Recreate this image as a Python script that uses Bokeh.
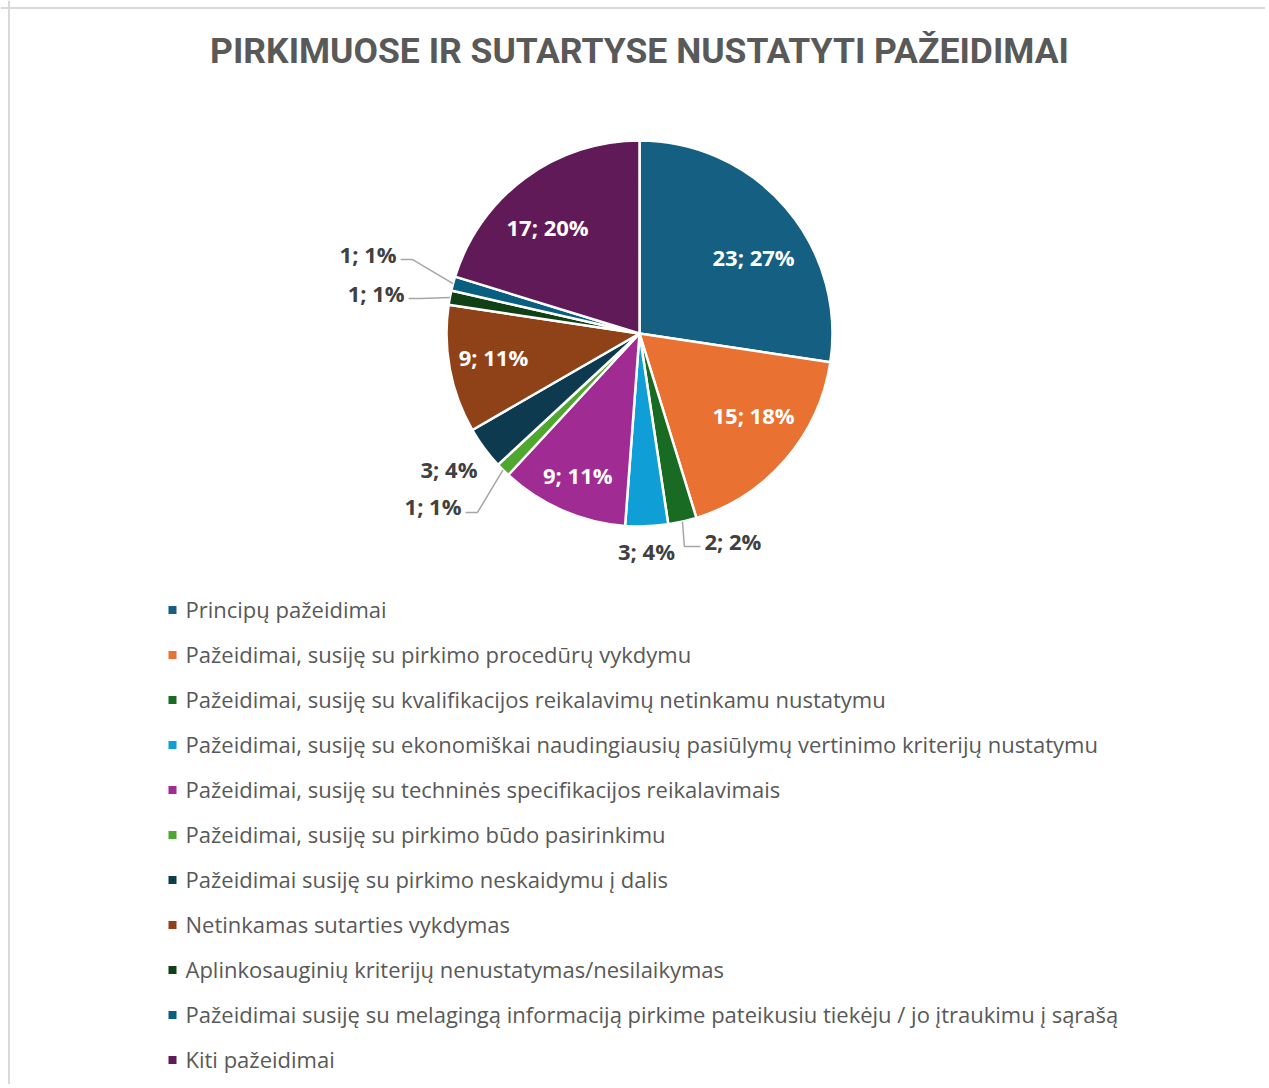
import math
from bokeh.plotting import figure
from bokeh.models import ColumnDataSource, Range1d, Span
from bokeh.core.properties import value
from bokeh.embed import file_html
from bokeh.resources import INLINE

# ---------------- data ----------------
title_text = "PIRKIMUOSE IR SUTARTYSE NUSTATYTI PAŽEIDIMAI"
categories = [
    "Principų pažeidimai",
    "Pažeidimai, susiję su pirkimo procedūrų vykdymu",
    "Pažeidimai, susiję su kvalifikacijos reikalavimų netinkamu nustatymu",
    "Pažeidimai, susiję su ekonomiškai naudingiausių pasiūlymų vertinimo kriterijų nustatymu",
    "Pažeidimai, susiję su techninės specifikacijos reikalavimais",
    "Pažeidimai, susiję su pirkimo būdo pasirinkimu",
    "Pažeidimai susiję su pirkimo neskaidymu į dalis",
    "Netinkamas sutarties vykdymas",
    "Aplinkosauginių kriterijų nenustatymas/nesilaikymas",
    "Pažeidimai susiję su melagingą informaciją pirkime pateikusiu tiekėju / jo įtraukimu į sąrašą",
    "Kiti pažeidimai",
]
counts = [23, 15, 2, 3, 9, 1, 3, 9, 1, 1, 17]
colors = ["#156082", "#E97132", "#196B24", "#0F9ED5", "#A02B93", "#4EA72E",
          "#0D3A4E", "#8F4117", "#0F4016", "#095F80", "#601A58"]

# ---------------- layout ----------------
W, H = 1265, 1084
def X(sx):
    return sx
def Y(sy):
    return H - sy

cx, cy = X(639), Y(333)
R = 193
label_kind = ["in", "in", "leader", "out", "in", "leader", "out", "in", "leader", "leader", "in"]
label_shift = [6.7, -5.3, -3.1, 0.3, 0.0, -0.8, 1.1, 1.7, -2.1, 2.2, -4.3]
label_k = [0.713, 0.725, 1.148, 1.125, 0.80, 1.293, 1.21, 0.766, 1.21, 1.296, 0.73]

FONT = "Open Sans"

p = figure(width=W, height=H, x_range=Range1d(0, W), y_range=Range1d(0, H),
           output_backend="svg", toolbar_location=None,
           x_axis_type=None, y_axis_type=None, min_border=0)
p.title.visible = False
p.outline_line_color = None
p.grid.visible = False
p.background_fill_color = "white"
p.border_fill_color = "white"

p.add_layout(Span(location=Y(7.5), dimension="width", line_color="#D9D9D9", line_width=2))
p.add_layout(Span(location=X(8.5), dimension="height", line_color="#D9D9D9", line_width=2))

total = sum(counts)
starts, ends, mids = [], [], []
cum = 0
for v in counts:
    a0 = 360.0 * cum / total
    cum += v
    a1 = 360.0 * cum / total
    starts.append(math.pi / 2 - math.radians(a0))
    ends.append(math.pi / 2 - math.radians(a1))
    mids.append((a0 + a1) / 2)

pie_src = ColumnDataSource(dict(x=[cx] * len(counts), y=[cy] * len(counts),
                                start=starts, end=ends, color=colors))
p.wedge(x="x", y="y", radius=R, start_angle="start", end_angle="end",
        direction="clock", fill_color="color", line_color="white",
        line_width=2.5, source=pie_src)

in_x, in_y, in_t = [], [], []
out_x, out_y, out_t = [], [], []
ll_x, ll_y, ll_t = [], [], []
lr_x, lr_y, lr_t = [], [], []
lead_xs, lead_ys = [], []
for i, v in enumerate(counts):
    txt = f"{v}; {round(100 * v / total)}%"
    th = math.radians(mids[i] + label_shift[i])
    px = cx + label_k[i] * R * math.sin(th)
    py = cy + label_k[i] * R * math.cos(th)
    if label_kind[i] == "in":
        in_x.append(px); in_y.append(py); in_t.append(txt)
    elif label_kind[i] == "out":
        out_x.append(px); out_y.append(py); out_t.append(txt)
    else:
        tm = math.radians(mids[i])
        ex = cx + R * math.sin(tm)
        ey = cy + R * math.cos(tm)
        if math.sin(th) > 0:
            elbow = px - 16
            lr_x.append(px + 4); lr_y.append(py + 6); lr_t.append(txt)
        else:
            elbow = px + 12
            ll_x.append(px - 4); ll_y.append(py + 6); ll_t.append(txt)
        lead_xs.append([ex, elbow, px])
        lead_ys.append([ey, py, py])

p.multi_line(xs=lead_xs, ys=lead_ys, line_color="#A6A6A6", line_width=1.5)

def add_text(xs, ys, ts, color, align):
    p.text(x=xs, y=ys, text=ts, text_font=value(FONT), text_font_style="bold",
           text_font_size="22px", text_color=color, text_align=align,
           text_baseline="middle")

add_text(in_x, in_y, in_t, "white", "center")
add_text(out_x, out_y, out_t, "#404040", "center")
add_text(ll_x, ll_y, ll_t, "#404040", "right")
add_text(lr_x, lr_y, lr_t, "#404040", "left")

# title
p.text(x=[X(639)], y=[Y(50)], text=[title_text], text_font=value("Roboto"),
       text_font_style="bold", text_font_size="35.5px", text_color="#595959",
       text_align="center", text_baseline="middle")

# legend
n = len(categories)
p.scatter(x=[X(172)] * n, y=[Y(609.5 + 45 * i) for i in range(n)], marker="square",
          size=8, fill_color=colors, line_color=None)
p.text(x=[X(185)] * n, y=[Y(608 + 45 * i) for i in range(n)], text=categories,
       text_font=value(FONT), text_font_size="22px", text_color="#595959",
       text_align="left", text_baseline="middle")

open("out.html", "w").write(file_html(p, INLINE))
